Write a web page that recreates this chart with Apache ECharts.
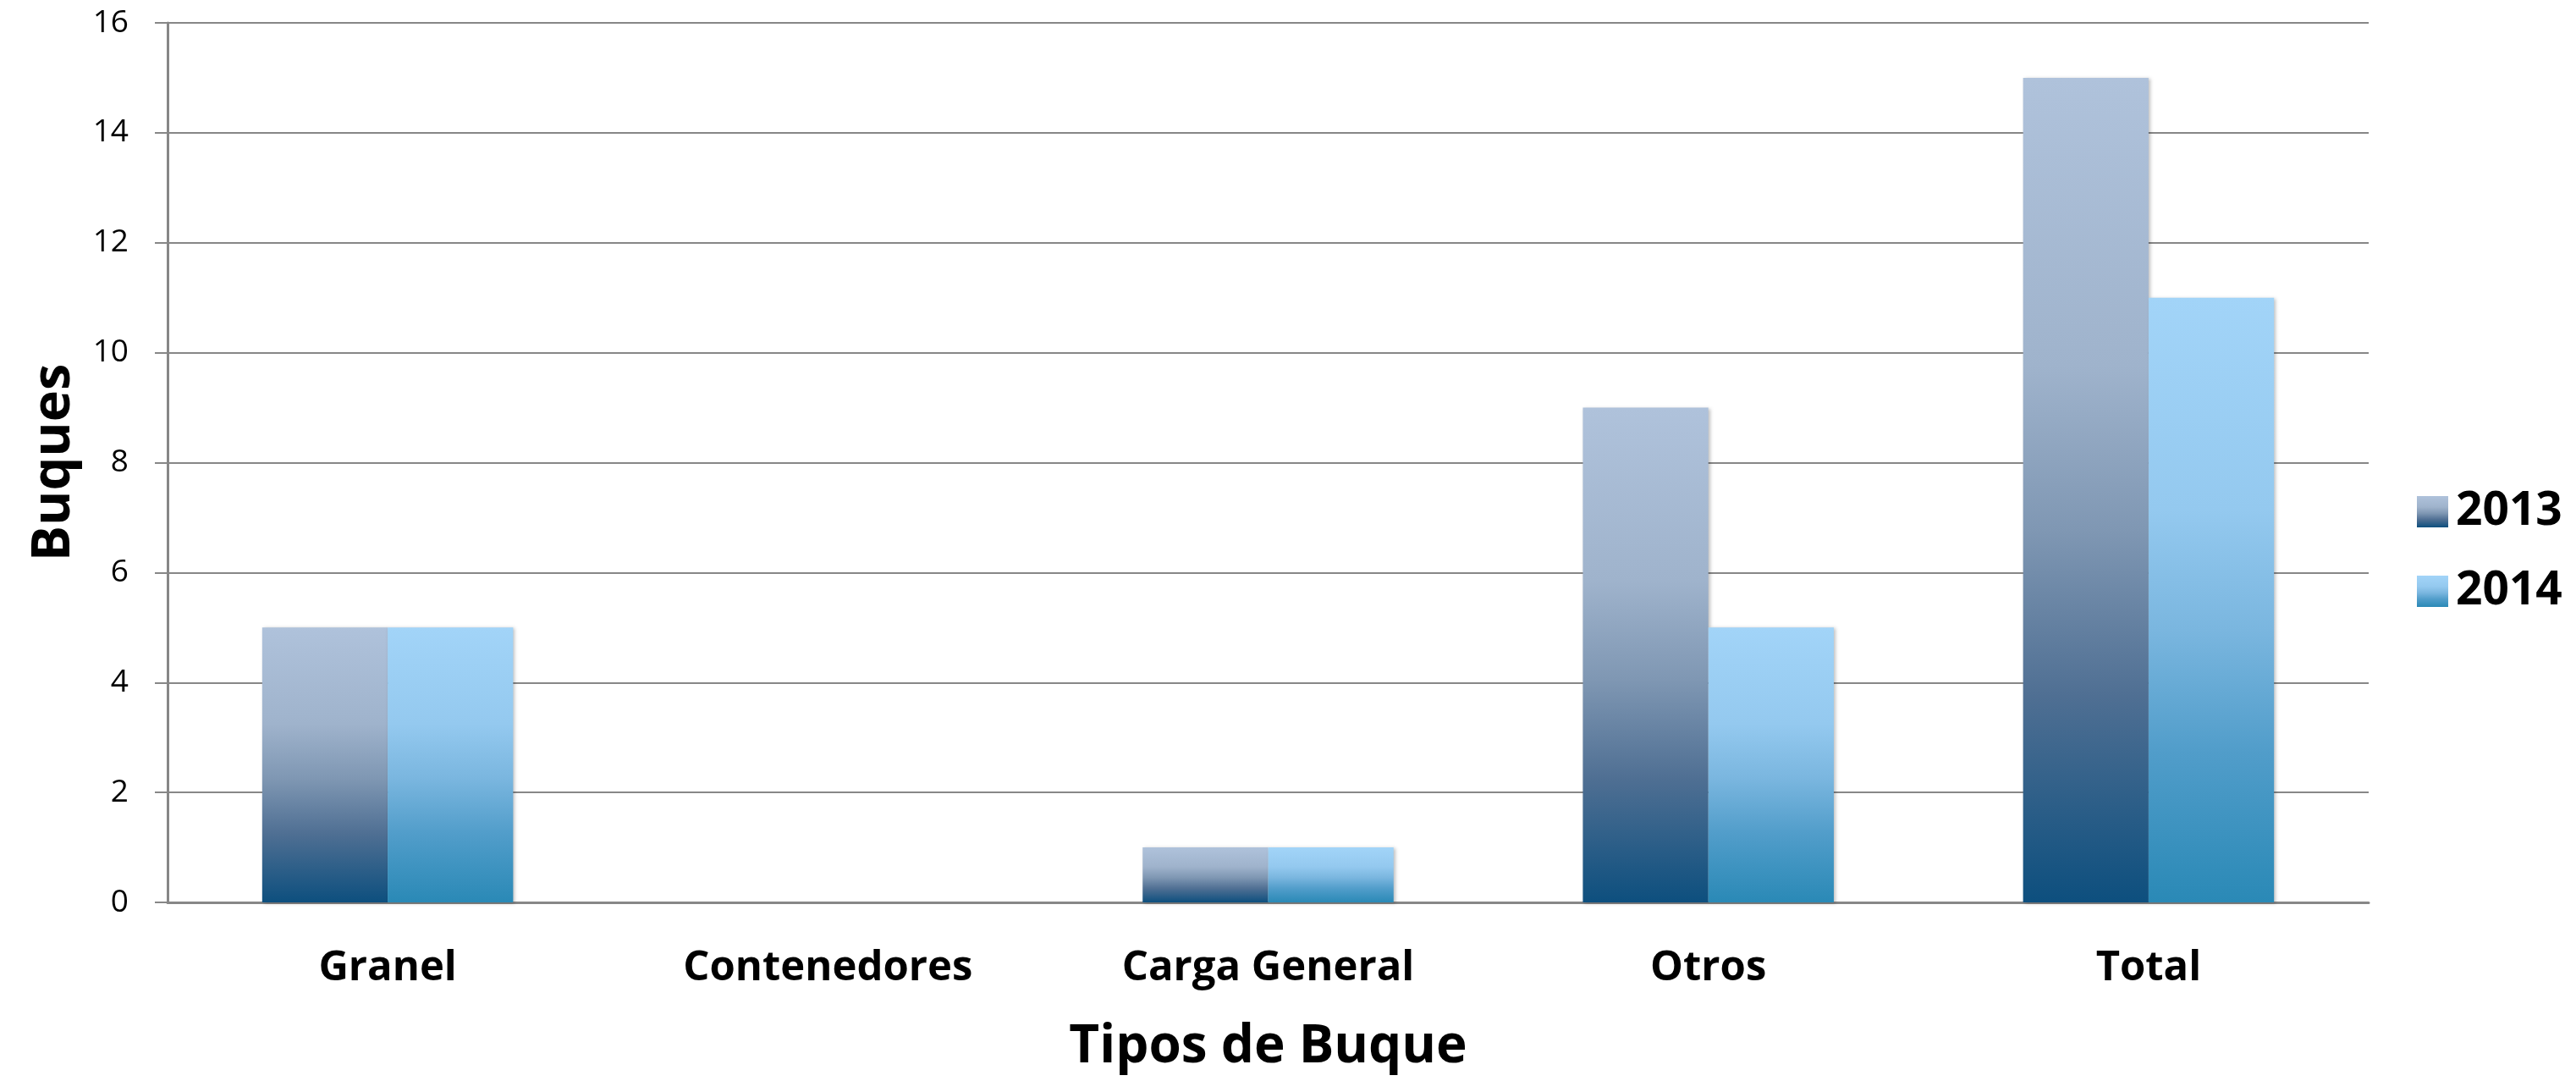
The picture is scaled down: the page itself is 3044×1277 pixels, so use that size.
<!DOCTYPE html>
<html>
<head>
<meta charset="utf-8">
<script src="https://cdn.jsdelivr.net/npm/echarts@6/dist/echarts.min.js"></script>
<style>
  html, body { margin: 0; padding: 0; background: #fff; }
  #chart { width: 3044px; height: 1277px; }
</style>
</head>
<body>
<div id="chart"></div>
<script>
// datos
const categories = ["Granel", "Contenedores", "Carga General", "Otros", "Total"];
const seriesNames = ["2013", "2014"];
const values2013 = [5, 0, 1, 9, 15];
const values2014 = [5, 0, 1, 5, 11];

const gridColor = "#878787";

// degradado vertical de cada serie
function gradient(stops) {
  return new echarts.graphic.LinearGradient(0, 0, 0, 1,
    stops.map(s => ({ offset: s[0], color: s[1] })));
}
const fill2013 = gradient([
  [0, "#afc2db"], [0.35, "#9fb3cc"], [0.55, "#7f97b3"],
  [0.75, "#4f6f93"], [1, "#0d4f7e"]
]);
const fill2014 = gradient([
  [0, "#a2d4f8"], [0.35, "#94c9ef"], [0.55, "#7ab6df"],
  [0.75, "#519dca"], [1, "#2a89b6"]
]);

const myChart = echarts.init(document.getElementById("chart"));

const option = {
  animation: false,
  backgroundColor: "#fff",
  grid: {
    left: 198,
    right: 245,
    top: 27,
    bottom: 211,
    containLabel: false
  },
  legend: {
    orient: "vertical",
    left: 2851,
    top: 572,
    itemWidth: 37,
    itemHeight: 37,
    itemGap: 39,
    icon: "rect",
    selectedMode: false,
    data: seriesNames,
    textStyle: {
      fontFamily: "Open Sans",
      fontWeight: "bold",
      fontSize: 55,
      lineHeight: 40,
      color: "#000",
      padding: [0, 0, 0, 4]
    }
  },
  xAxis: {
    type: "category",
    data: categories,
    name: "Tipos de Buque",
    nameLocation: "middle",
    nameGap: 140,
    nameTextStyle: {
      fontFamily: "Open Sans",
      fontWeight: "bold",
      fontSize: 62,
      color: "#000",
      verticalAlign: "top"
    },
    axisLine: { lineStyle: { color: gridColor, width: 3 } },
    axisTick: { show: false },
    axisLabel: {
      margin: 54,
      fontFamily: "Open Sans",
      fontWeight: "bold",
      fontSize: 49,
      color: "#000",
      verticalAlign: "top"
    }
  },
  yAxis: {
    type: "value",
    min: 0,
    max: 16,
    interval: 2,
    name: "Buques",
    nameLocation: "middle",
    nameGap: 134,
    nameRotate: 90,
    nameTextStyle: {
      fontFamily: "Open Sans",
      fontWeight: "bold",
      fontSize: 63,
      color: "#000",
      verticalAlign: "middle"
    },
    axisLine: { show: true, lineStyle: { color: gridColor, width: 3 } },
    axisTick: { show: true, length: 15, lineStyle: { color: gridColor, width: 2 } },
    splitLine: { lineStyle: { color: gridColor, width: 2 } },
    axisLabel: {
      margin: 46,
      fontFamily: "Open Sans",
      fontSize: 37,
      color: "#000"
    }
  },
  series: [
    {
      name: seriesNames[0],
      type: "bar",
      data: values2013,
      barGap: "0%",
      barCategoryGap: "43%",
      itemStyle: {
        color: fill2013,
        shadowColor: "rgba(0,0,0,0.25)",
        shadowBlur: 4,
        shadowOffsetX: 2,
        shadowOffsetY: 1
      }
    },
    {
      name: seriesNames[1],
      type: "bar",
      data: values2014,
      barGap: "0%",
      barCategoryGap: "43%",
      itemStyle: {
        color: fill2014,
        shadowColor: "rgba(0,0,0,0.25)",
        shadowBlur: 4,
        shadowOffsetX: 2,
        shadowOffsetY: 1
      }
    }
  ]
};

myChart.setOption(option);
</script>
</body>
</html>
